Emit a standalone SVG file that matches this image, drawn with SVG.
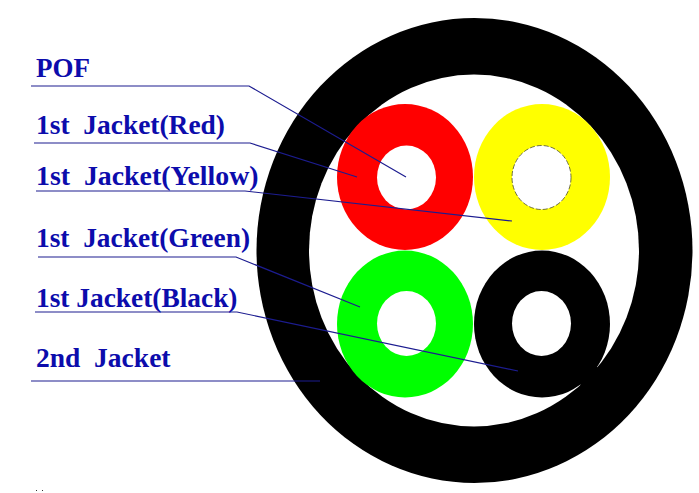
<svg xmlns="http://www.w3.org/2000/svg" width="699" height="493" viewBox="0 0 699 493">
<style>
.l{font-family:"Liberation Serif",serif;font-weight:bold;font-size:27.5px;fill:#0c0cac;white-space:pre}
.c{fill:none;stroke:#1c1c90;stroke-width:1.2}
.h{fill:#fff}
</style>
<rect width="699" height="493" fill="#fff"/>
<g id="outer-jacket"><ellipse cx="474.500" cy="250.500" rx="218" ry="232.500" fill="#000"/><ellipse cx="474" cy="250.500" rx="165" ry="176" class="h"/></g>
<g id="red-jacket"><ellipse cx="405" cy="177" rx="68" ry="73" fill="#f00"/><ellipse cx="406.500" cy="177.500" rx="29.500" ry="32" class="h"/></g>
<g id="yellow-jacket"><ellipse cx="542" cy="177" rx="68" ry="73" fill="#ff0"/><ellipse cx="541.500" cy="177.500" rx="29.500" ry="32" class="h" stroke="#333" stroke-width=".7" stroke-dasharray="5 2"/></g>
<g id="green-jacket"><ellipse cx="405" cy="324" rx="68" ry="73.500" fill="#0f0"/><ellipse cx="406.500" cy="323.500" rx="29.500" ry="32.500" class="h"/></g>
<g id="black-jacket"><ellipse cx="542" cy="324" rx="68" ry="73.500" fill="#000"/><ellipse cx="541.500" cy="323.500" rx="29.500" ry="32.500" class="h"/><line x1="597" y1="367" x2="581" y2="385" stroke="#000" stroke-width="4"/></g>
<g id="connectors">
<polyline class="c" points="31,86 249,86 406,177"/>
<polyline class="c" points="34,143 250,143 357,177"/>
<polyline class="c" points="36,191 245,191 512,221"/>
<polyline class="c" points="38,257 236,257 360,307"/>
<polyline class="c" points="35,312 237,312 518,371"/>
<polyline class="c" points="31,381 320,381"/>
</g>
<g id="labels">
<text class="l" x="36" y="77" textLength="54" lengthAdjust="spacingAndGlyphs">POF</text>
<text class="l" x="36" y="134" textLength="189" lengthAdjust="spacingAndGlyphs">1st  Jacket(Red)</text>
<text class="l" x="36" y="185" textLength="222.500" lengthAdjust="spacingAndGlyphs">1st  Jacket(Yellow)</text>
<text class="l" x="36" y="247" textLength="214" lengthAdjust="spacingAndGlyphs">1st  Jacket(Green)</text>
<text class="l" x="36" y="306.500" textLength="201.500" lengthAdjust="spacingAndGlyphs">1st Jacket(Black)</text>
<text class="l" x="36" y="367" textLength="134.500" lengthAdjust="spacingAndGlyphs">2nd  Jacket</text>
</g>
<g id="specks" fill="#333"><rect x="36" y="490" width="1" height="1"/><rect x="42" y="490" width="1" height="1"/></g>
</svg>
